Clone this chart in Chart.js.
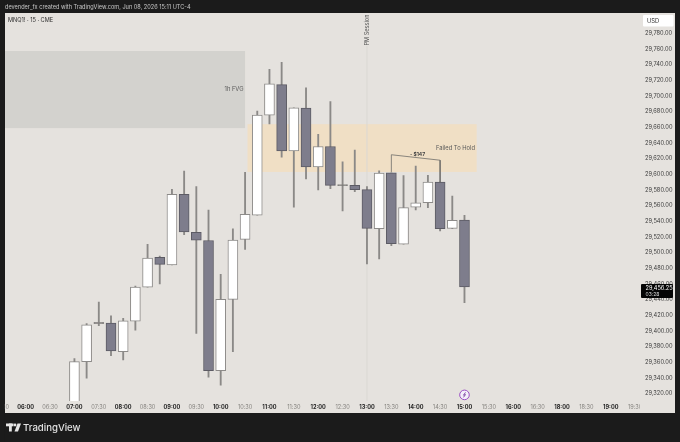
<!DOCTYPE html>
<html>
<head>
<meta charset="utf-8">
<script src="https://cdn.jsdelivr.net/npm/chart.js@4/dist/chart.umd.min.js"></script>
<style>
  html, body { margin: 0; padding: 0; background: #1b1b1b; }
  canvas { display: block; }
</style>
</head>
<body>
<canvas id="chart" width="680" height="442"></canvas>
<script>
// one slot every 15 minutes, the session break means 16:45 is followed by 18:00
const timeLabels = [
  "05:30","05:45","06:00","06:15","06:30","06:45","07:00","07:15","07:30","07:45",
  "08:00","08:15","08:30","08:45","09:00","09:15","09:30","09:45","10:00","10:15",
  "10:30","10:45","11:00","11:15","11:30","11:45","12:00","12:15","12:30","12:45",
  "13:00","13:15","13:30","13:45","14:00","14:15","14:30","14:45","15:00","15:15",
  "15:30","15:45","16:00","16:15","16:30","16:45","18:00","18:15","18:30","18:45",
  "19:00","19:15","19:30"
];

// candles start at the 07:00 slot
const firstCandle = 6;
const opens = [29300, 29361, 29409.5, 29410, 29373.5, 29412.5, 29456, 29494, 29484.5, 29574.5, 29526, 29515.5, 29349.5, 29440.5, 29517, 29548, 29675.5, 29714.5, 29630, 29684.5, 29609.5, 29635.5, 29585.5, 29586, 29580.5, 29530.5, 29602, 29511, 29558, 29563.75, 29590.25, 29531, 29541.75];
const closes = [29361, 29408, 29411, 29374.5, 29413, 29456, 29493, 29485, 29574.5, 29526.5, 29516, 29349.5, 29440.5, 29516, 29549, 29675.5, 29715.5, 29630, 29685, 29609.5, 29635.5, 29586, 29587, 29580.5, 29531, 29601.5, 29511.5, 29557.5, 29563.75, 29590.25, 29530.5, 29541.25, 29456.25];
const highs = [29364.75, 29409.5, 29437, 29419.25, 29416.25, 29457.5, 29510.75, 29495.75, 29581, 29604, 29584.25, 29554.5, 29472.5, 29530.5, 29602.5, 29680.75, 29734, 29743, 29685, 29710.5, 29651, 29692.75, 29616, 29631, 29584.25, 29604.5, 29602, 29598.25, 29610.5, 29598.75, 29590.25, 29572.25, 29547.75];
const lows = [29295, 29339.75, 29406.75, 29368.5, 29363, 29401.25, 29456, 29460, 29484.5, 29523, 29397, 29341, 29330.75, 29373.5, 29504.25, 29548, 29664.25, 29621.75, 29558, 29594, 29580, 29581.75, 29553.25, 29577.75, 29485.5, 29492, 29509, 29511, 29554.5, 29557.5, 29527.75, 29530.5, 29436.25];

const priceMin = 29310.7;
const priceMax = 29805.9;
const lastPrice = 29456.25;

// drawn zones as [first slot, last slot, top price, bottom price]
const fvgZone = [0, 20, 29757.4, 29659];
const holdZone = [20.2, 39, 29664, 29603];
// price range bracket drawn on the chart
const bracketSlots = [32, 32, 36, 36];
const bracketPrices = [29603, 29625, 29618, 29590];

const pmSessionSlot = 30;
const eventSlot = 38;
const eventPrice = 29318.5;

const UP_FILL = "#ffffff", UP_LINE = "#8d8b89";
const DOWN_FILL = "#7e7d8c", DOWN_LINE = "#5c5b64";
const PANEL = "#e5e2de", DARK = "#1b1b1b";
const FONT = "Inter, 'Liberation Sans', sans-serif";

const slots = opens.map((_, i) => firstCandle + i);
const isUp = opens.map((o, i) => closes[i] >= o);
// dojis are only a line, a white fill would hide it
const bodyFill = opens.map((o, i) =>
  Math.abs(closes[i] - o) < 2 ? "#6f6e6c" : isUp[i] ? UP_FILL : DOWN_FILL
);

function text(ctx, str, x, y, font, color, align) {
  ctx.font = font;
  ctx.fillStyle = color;
  ctx.textAlign = align || "left";
  ctx.textBaseline = "middle";
  ctx.fillText(str, x, y);
}

function drawZone(ctx, scales, zone, color) {
  const left = Math.max(scales.x.getPixelForValue(zone[0]), 5);
  const right = scales.x.getPixelForValue(zone[1]);
  const top = scales.y.getPixelForValue(zone[2]);
  const bottom = scales.y.getPixelForValue(zone[3]);
  ctx.fillStyle = color;
  ctx.fillRect(left, top, right - left, bottom - top);
}

const tvDecor = {
  id: "tvDecor",
  beforeDraw(chart) {
    const ctx = chart.ctx;
    ctx.save();
    ctx.fillStyle = DARK;
    ctx.fillRect(0, 0, 680, 442);
    ctx.fillStyle = PANEL;
    ctx.fillRect(5, 13, 670, 400);
    ctx.restore();
  },
  beforeDatasetsDraw(chart) {
    const ctx = chart.ctx, s = chart.scales;
    ctx.save();
    drawZone(ctx, s, fvgZone, "#d3d2ce");
    drawZone(ctx, s, holdZone, "#f0dfc5");

    // PM session marker
    const pmX = s.x.getPixelForValue(pmSessionSlot);
    ctx.strokeStyle = "#dad8d3";
    ctx.lineWidth = 1;
    ctx.beginPath();
    ctx.moveTo(pmX, 46);
    ctx.lineTo(pmX, 401);
    ctx.stroke();
    ctx.save();
    ctx.translate(pmX, 30);
    ctx.rotate(-Math.PI / 2);
    text(ctx, "PM Session", 0, 0, "5.6px " + FONT, "#555555", "center");
    ctx.restore();

    text(ctx, "1h FVG", 243.5, 89.5, "5.8px " + FONT, "#5a5a5a", "right");
    text(ctx, "Failed To Hold", 475, 148.5, "5.8px " + FONT, "#5a5a5a", "right");
    text(ctx, "- $147", 417.5, 154.5, "bold 5px " + FONT, "#444444", "center");
    ctx.restore();
  },
  afterDatasetsDraw(chart) {
    const ctx = chart.ctx, s = chart.scales;
    ctx.save();
    // mask both ends of the time axis, labels get cut off there
    ctx.fillStyle = DARK;
    ctx.fillRect(0, 0, 4.7, 442);
    ctx.fillStyle = PANEL;
    ctx.fillRect(640, 13, 35, 400);

    // event badge
    const ex = s.x.getPixelForValue(eventSlot), ey = s.y.getPixelForValue(eventPrice);
    ctx.fillStyle = "#f4effa";
    ctx.strokeStyle = "#9b4fc4";
    ctx.lineWidth = 1;
    ctx.beginPath();
    ctx.arc(ex, ey, 4.8, 0, Math.PI * 2);
    ctx.fill();
    ctx.stroke();
    ctx.strokeStyle = "#7a3fa0";
    ctx.lineWidth = 0.9;
    ctx.beginPath();
    ctx.moveTo(ex + 1, ey - 2.5);
    ctx.lineTo(ex - 1, ey + 0.3);
    ctx.lineTo(ex + 1, ey - 0.3);
    ctx.lineTo(ex - 1, ey + 2.5);
    ctx.stroke();

    // header
    text(ctx, "devender_fx created with TradingView.com, Jun 08, 2026 15:11 UTC-4", 5, 7.5, "5.6px " + FONT, "#c9c9c9");
    text(ctx, "MNQ1! \u00b7 15 \u00b7 CME", 8, 20, "5.6px " + FONT, "#2b2b2b");

    // footer logo
    ctx.fillStyle = "#e6e6e6";
    ctx.fillRect(6, 423.5, 7.5, 2.8);
    ctx.fillRect(9, 423.5, 2.8, 8);
    ctx.beginPath();
    ctx.arc(15, 425, 1.4, 0, Math.PI * 2);
    ctx.fill();
    ctx.beginPath();
    ctx.moveTo(14.5, 431.5);
    ctx.lineTo(17.5, 423.5);
    ctx.lineTo(21, 423.5);
    ctx.lineTo(18, 431.5);
    ctx.closePath();
    ctx.fill();
    text(ctx, "TradingView", 23, 428, "500 9.6px " + FONT, "#e2e2e2");
    ctx.restore();
  },
  afterDraw(chart) {
    const ctx = chart.ctx;
    ctx.save();
    // currency box
    ctx.fillStyle = "#ffffff";
    ctx.beginPath();
    ctx.roundRect(643, 15, 30.5, 11.5, 1);
    ctx.fill();
    text(ctx, "USD", 647, 20.8, "5.8px " + FONT, "#333333");

    // last price tag
    ctx.fillStyle = "#050505";
    ctx.beginPath();
    ctx.roundRect(641, 284, 32, 14, 1);
    ctx.fill();
    const tag = lastPrice.toLocaleString("en-US", { minimumFractionDigits: 2 });
    text(ctx, tag, 645.5, 288, "5.6px " + FONT, "#ffffff");
    text(ctx, "03:28", 645.5, 294.5, "5px " + FONT, "#d8d8d8");
    ctx.restore();
  }
};

new Chart(document.getElementById("chart"), {
  type: "bar",
  data: {
    datasets: [
      {
        type: "line",
        data: bracketSlots.map((x, i) => ({ x: x, y: bracketPrices[i] })),
        borderColor: "#6f6d6a",
        borderWidth: 0.8,
        pointRadius: 0,
        tension: 0,
        order: 0
      },
      {
        data: slots.map((x, i) => ({ x: x, y: [opens[i], closes[i]] })),
        backgroundColor: bodyFill,
        borderColor: isUp.map(u => (u ? UP_LINE : DOWN_LINE)),
        borderWidth: 1,
        borderSkipped: false,
        barThickness: 10,
        grouped: false,
        order: 1
      },
      {
        data: slots.map((x, i) => ({ x: x, y: [lows[i], highs[i]] })),
        backgroundColor: "#8b8987",
        barThickness: 1.2,
        grouped: false,
        order: 2
      }
    ]
  },
  options: {
    responsive: false,
    animation: false,
    layout: { autoPadding: false, padding: { left: 1.3, right: 5, top: 13, bottom: 29 } },
    plugins: { legend: { display: false }, tooltip: { enabled: false } },
    scales: {
      x: {
        type: "linear",
        offset: false,
        min: 0,
        max: 52.4,
        grid: { display: false, drawTicks: false },
        border: { display: false },
        afterFit(scale) {
          scale.height = 12;
          // the first label hangs over the panel edge, don't let it push the plot
          scale.paddingLeft = 0;
          scale.paddingRight = 0;
        },
        ticks: {
          stepSize: 2,
          autoSkip: false,
          maxRotation: 0,
          includeBounds: false,
          padding: 3,
          color: ctx => (ctx.tick && ctx.tick.value % 4 === 2 ? "#1f1f1f" : "#85837f"),
          font: ctx => ({
            family: FONT,
            size: 5.6,
            weight: ctx.tick && ctx.tick.value % 4 === 2 ? "bold" : "normal"
          }),
          callback: value => timeLabels[value]
        }
      },
      y: {
        position: "right",
        min: priceMin,
        max: priceMax,
        grid: { display: false, drawTicks: false },
        border: { display: false },
        afterFit(scale) {
          scale.width = 35;
          scale.paddingTop = 0;
          scale.paddingBottom = 0;
        },
        ticks: {
          z: 1,
          stepSize: 20,
          autoSkip: false,
          includeBounds: false,
          padding: 5,
          color: "#3c3c3c",
          font: { family: FONT, size: 5.7 },
          callback: value =>
            value > 29780 ? "" : value.toLocaleString("en-US", { minimumFractionDigits: 2 })
        }
      }
    }
  },
  plugins: [tvDecor]
});
</script>
</body>
</html>
